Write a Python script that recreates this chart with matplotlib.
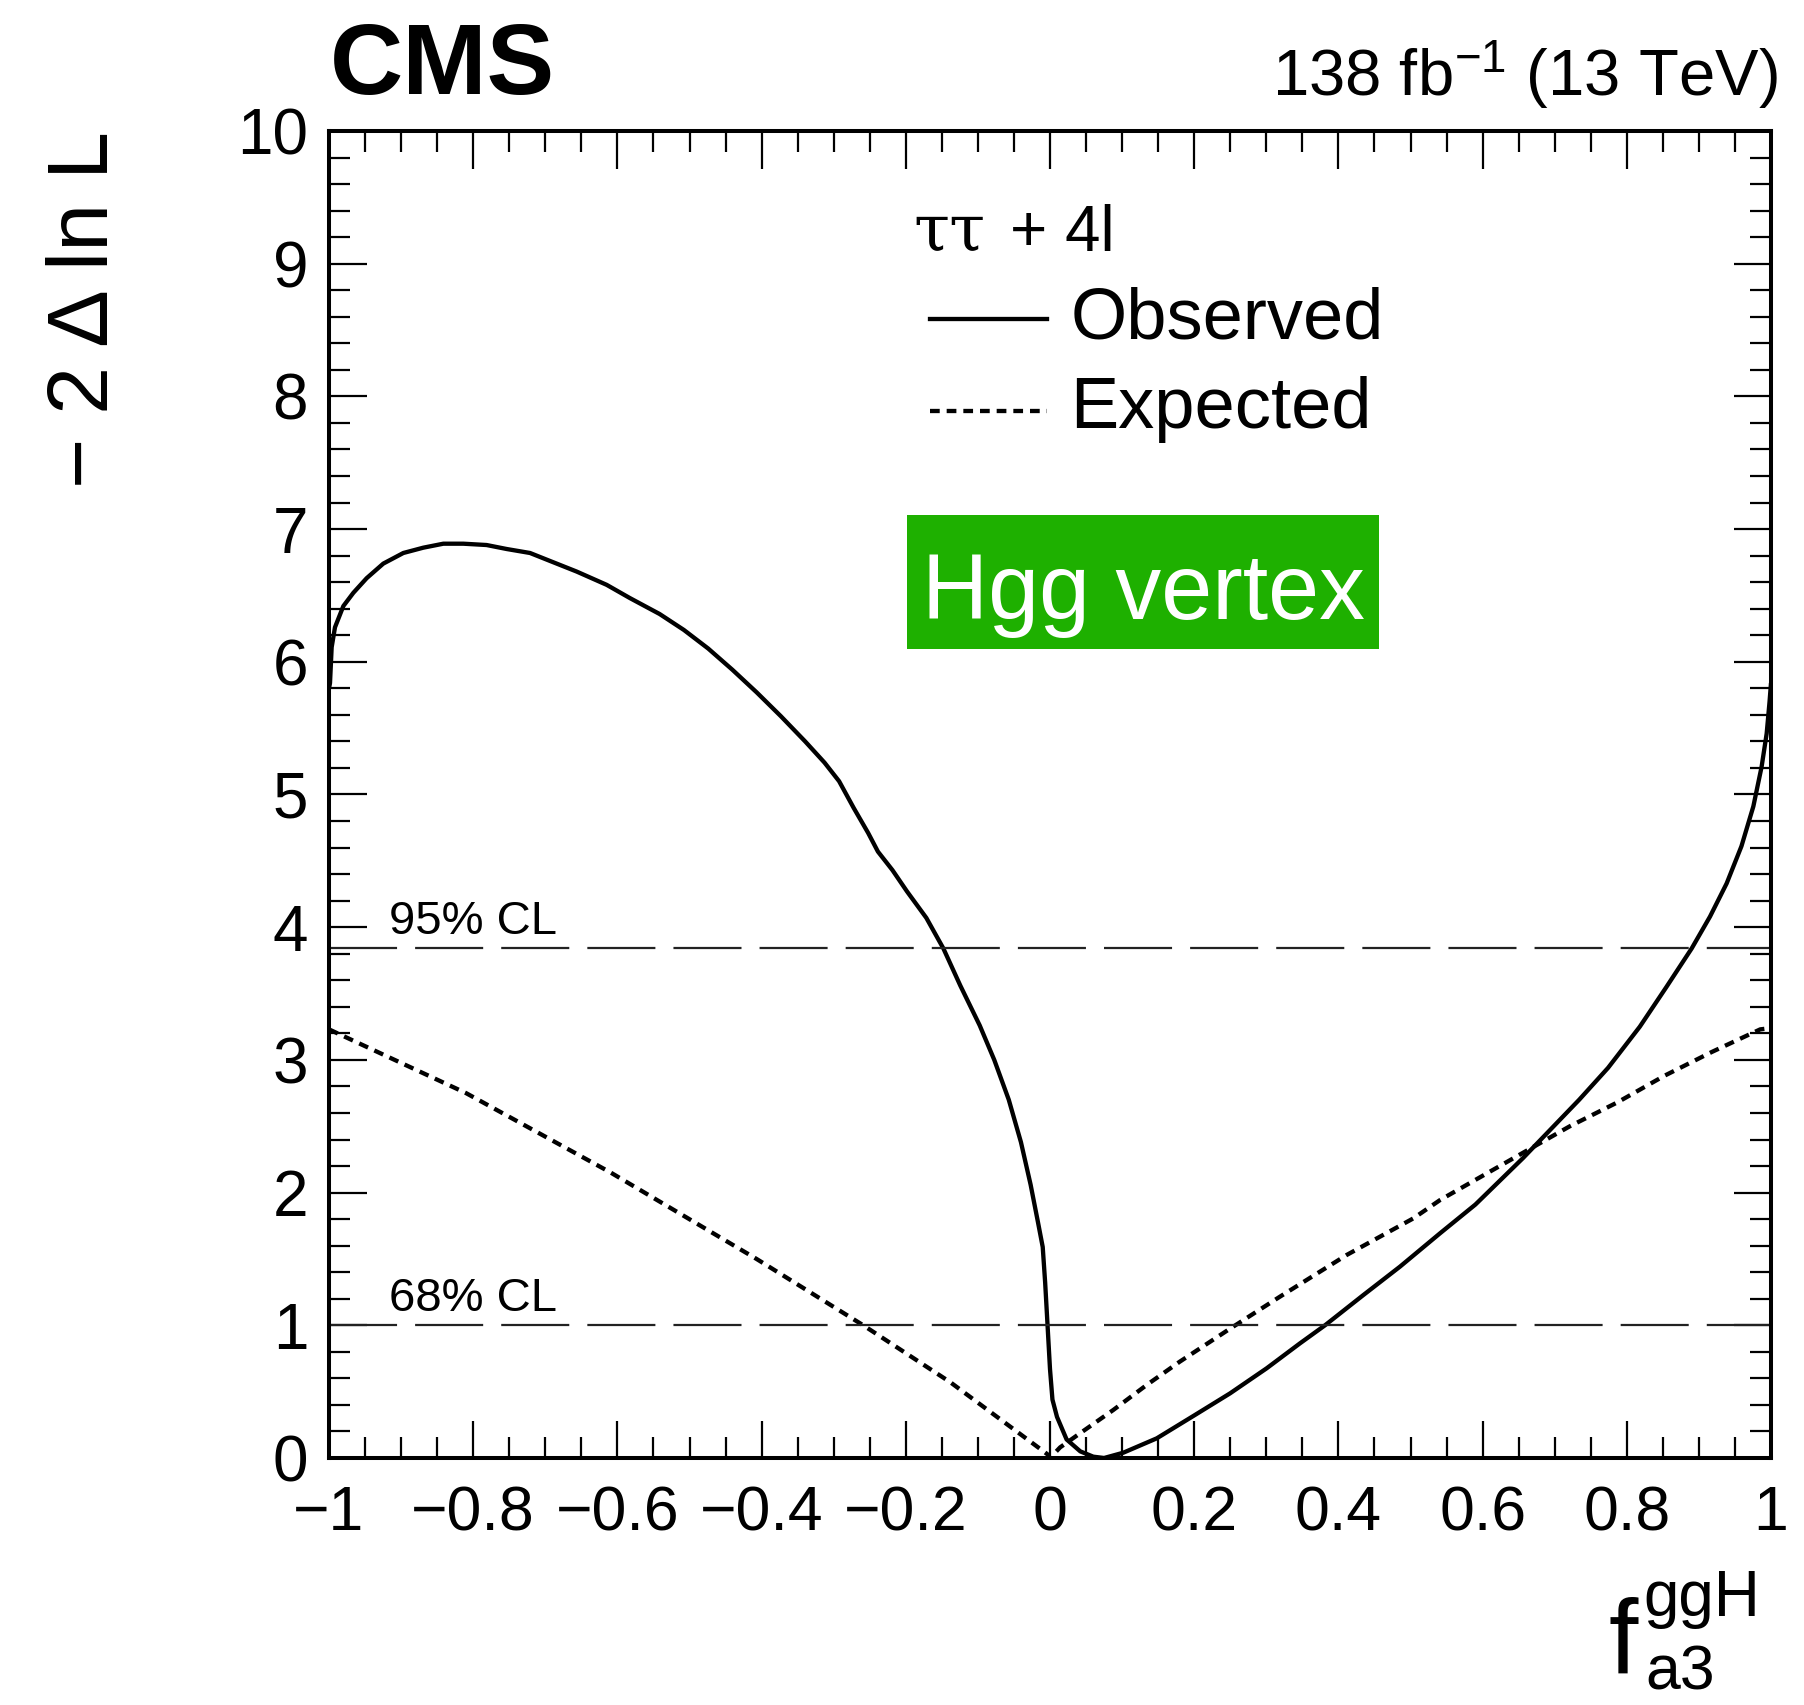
import matplotlib
matplotlib.use("Agg")
import matplotlib.pyplot as plt
from matplotlib.ticker import MultipleLocator, FuncFormatter
from matplotlib.lines import Line2D
from matplotlib.patches import Rectangle

# ---------------- data ----------------
obs_x = [-1.000, -0.9986, -0.9963, -0.9917, -0.9801, -0.9662, -0.9478, -0.9247, -0.8969, -0.8692,
         -0.8414, -0.8137, -0.7814, -0.7536, -0.7212, -0.6935, -0.6565, -0.6149, -0.5826, -0.5414,
         -0.5078, -0.4741, -0.4405, -0.4069, -0.3733, -0.3396, -0.3127, -0.2925, -0.2724, -0.2522,
         -0.2387, -0.2185, -0.1984, -0.1715, -0.1479, -0.1244, -0.0975, -0.0773, -0.0572, -0.0403,
         -0.0269, -0.0168, -0.0101, -0.0067, -0.0034, 0.0000, 0.0034, 0.0097, 0.0230, 0.0420,
         0.0600, 0.0750, 0.1017, 0.1480, 0.2010, 0.2497, 0.3005, 0.3467, 0.3814, 0.4346,
         0.4854, 0.5409, 0.5900, 0.6560, 0.7340, 0.7740, 0.8180, 0.8550, 0.8900, 0.9154,
         0.9385, 0.9590, 0.9755, 0.9870, 0.9940, 0.9980, 1.0000]
obs_y = [5.80, 5.84, 6.11, 6.26, 6.42, 6.52, 6.63, 6.74, 6.82, 6.86,
         6.89, 6.89, 6.88, 6.85, 6.82, 6.76, 6.68, 6.58, 6.48, 6.36,
         6.24, 6.10, 5.94, 5.77, 5.59, 5.40, 5.24, 5.10, 4.90, 4.71,
         4.57, 4.43, 4.27, 4.07, 3.84, 3.56, 3.26, 3.00, 2.70, 2.38,
         2.06, 1.78, 1.59, 1.32, 1.00, 0.67, 0.44, 0.31, 0.14, 0.05,
         0.01, 0.00, 0.04, 0.148, 0.324, 0.487, 0.676, 0.864, 1.00, 1.228,
         1.442, 1.693, 1.91, 2.26, 2.70, 2.94, 3.25, 3.55, 3.84, 4.08,
         4.33, 4.61, 4.91, 5.21, 5.46, 5.70, 5.84]

exp_x = [-1.000, -0.810, -0.609, -0.407, -0.259, -0.138, -0.004, 0.000, 0.014, 0.0416,
         0.0878, 0.134, 0.180, 0.247, 0.319, 0.4115, 0.504, 0.541, 0.656, 0.721,
         0.787, 0.852, 0.918, 0.985, 1.000]
exp_y = [3.23, 2.75, 2.15, 1.50, 1.00, 0.57, 0.03, 0.00, 0.08, 0.186,
         0.362, 0.55, 0.726, 0.965, 1.216, 1.53, 1.806, 1.944, 2.30, 2.50,
         2.68, 2.88, 3.06, 3.23, 3.24]

cl_levels = [3.84, 1.0]
cl_labels = ["95% CL", "68% CL"]

x_ticks = [-1, -0.8, -0.6, -0.4, -0.2, 0, 0.2, 0.4, 0.6, 0.8, 1]
y_ticks = [0, 1, 2, 3, 4, 5, 6, 7, 8, 9, 10]

# ---------------- style ----------------
plt.rcParams['font.family'] = ['Liberation Sans', 'DejaVu Sans']
plt.rcParams['mathtext.fontset'] = 'custom'
plt.rcParams['mathtext.rm'] = 'Liberation Sans'
plt.rcParams['mathtext.it'] = 'Liberation Sans'
plt.rcParams['lines.scale_dashes'] = False

W, H = 1804, 1705
fig = plt.figure(figsize=(W / 100, H / 100), dpi=100)
ax = fig.add_axes([329 / W, 1 - 1458 / H, 1442 / W, 1327 / H])

DOT = (0, (7, 5))
ax.plot(obs_x, obs_y, color='black', lw=3.1, solid_joinstyle='round', solid_capstyle='butt')
ax.plot(exp_x, exp_y, color='black', lw=3.1, linestyle=DOT)

for lev, lab in zip(cl_levels, cl_labels):
    ax.plot([-1, 1], [lev, lev], color='#222222', lw=1.6, linestyle=(0, (49, 13)))
    ax.text(-0.917, lev + 0.11, lab, fontsize=34, ha='left', va='baseline')

ax.set_xlim(-1, 1)
ax.set_ylim(0, 10)
ax.set_xticks(x_ticks)
ax.set_yticks(y_ticks)
ax.xaxis.set_minor_locator(MultipleLocator(0.05))
ax.yaxis.set_minor_locator(MultipleLocator(0.2))


def fmt(v, pos):
    s = ('%g' % v)
    return s.replace('-', '\u2212')


ax.xaxis.set_major_formatter(FuncFormatter(fmt))
ax.yaxis.set_major_formatter(FuncFormatter(fmt))

ax.tick_params(which='both', direction='in', top=True, right=True, width=1.6, color='black')
ax.tick_params(which='major', length=27)
ax.tick_params(which='minor', length=15)
ax.tick_params(axis='x', which='major', labelsize=45, pad=19)
ax.tick_params(axis='y', which='major', labelsize=46, pad=15)
for sp in ax.spines.values():
    sp.set_linewidth(2.9)

# legend (manual, ROOT-like)
ax.text(0.405, 0.9096, "\u03c4\u03c4", fontsize=47, family=['DejaVu Serif'],
        transform=ax.transAxes, ha='left', va='baseline')
ax.text(0.472, 0.9096, "+ 4l", fontsize=46, transform=ax.transAxes, ha='left', va='baseline')
ax.add_line(Line2D([0.417, 0.498], [0.858, 0.858], transform=ax.transAxes, color='black', lw=3.1))
ax.text(0.514, 0.8575, "Observed", fontsize=52, transform=ax.transAxes, ha='left', va='center')
ax.add_line(Line2D([0.417, 0.498], [0.789, 0.789], transform=ax.transAxes, color='black', lw=3.1,
                   linestyle=DOT))
ax.text(0.514, 0.790, "Expected", fontsize=52, transform=ax.transAxes, ha='left', va='center')

# green label box
ax.add_patch(Rectangle((0.401, 0.610), 0.327, 0.101, transform=ax.transAxes,
                       facecolor='#1eb000', edgecolor='none', zorder=3))
ax.text(0.5645, 0.632, "Hgg vertex", fontsize=66, color='white', transform=ax.transAxes,
        ha='center', va='baseline', zorder=4)

# header texts
fig.text(330 / W, 1 - 94 / H, "CMS", fontsize=73, fontweight='bold', ha='left', va='baseline')
fig.text(1778 / W, 1 - 96 / H, r"138 fb$^{\mathrm{-1}}$ (13 TeV)", fontsize=47, ha='right', va='baseline')

# y label
fig.text(86 / W, 1 - 131 / H, "\u2212 2 \u0394 ln L", fontsize=62, rotation=90, ha='center', va='top')

# x label  f^{ggH}_{a3}
fig.text(1609 / W, 1 - 1674 / H, "f", fontsize=76, ha='left', va='baseline')
fig.text(1643 / W, 1 - 1616 / H, "ggH", fontsize=46, ha='left', va='baseline')
fig.text(1645 / W, 1 - 1690 / H, "a3", fontsize=45, ha='left', va='baseline')

fig.savefig("out.png", dpi=100)
